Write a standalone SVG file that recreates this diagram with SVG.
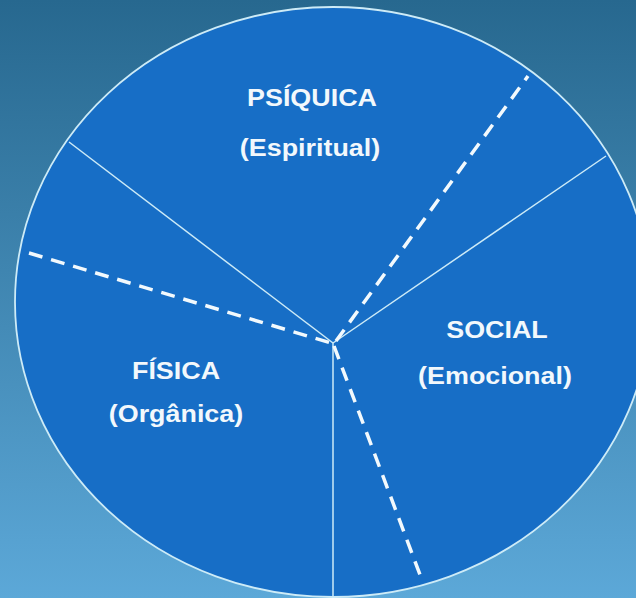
<svg xmlns="http://www.w3.org/2000/svg" width="636" height="598" viewBox="0 0 636 598">
  <defs>
    <linearGradient id="bg" x1="0" y1="0" x2="0" y2="1">
      <stop offset="0" stop-color="#27688f"/>
      <stop offset="1" stop-color="#5ca8d8"/>
    </linearGradient>
    <style>
      .pie { fill: #176ec6; stroke: #cdebf7; stroke-width: 1.8; }
      .divider { stroke: #cdebf7; stroke-width: 1.5; fill: none; }
      .dash { stroke: #f2f9fd; stroke-width: 3.5; fill: none; stroke-dasharray: 14 9; }
      .label { font-family: "Liberation Sans", Arial, sans-serif; font-weight: bold; font-size: 24px; fill: #f2f8fc; text-anchor: middle; }
    </style>
  </defs>

  <rect x="0" y="0" width="636" height="598" fill="url(#bg)"/>

  <!-- main disc -->
  <ellipse class="pie" cx="333" cy="302" rx="318" ry="295"/>

  <g id="connectors">
    <!-- solid sector boundaries -->
    <line class="divider" x1="333" y1="343" x2="69" y2="142"/>
    <line class="divider" x1="333" y1="343" x2="606" y2="156"/>
    <line class="divider" x1="333" y1="343" x2="333" y2="597"/>
    <!-- dashed sub-boundaries -->
    <line class="dash" x1="29" y1="253" x2="331" y2="343"/>
    <line class="dash" x1="336" y1="341" x2="528" y2="76"/>
    <line class="dash" x1="334" y1="346" x2="422" y2="580"/>
  </g>

  <g id="psiquica">
    <text class="label" transform="translate(312 106) scale(1.12 1)">PSÍQUICA</text>
    <text class="label" transform="translate(310 156) scale(1.12 1)">(Espiritual)</text>
  </g>

  <g id="social">
    <text class="label" transform="translate(497 338) scale(1.12 1)">SOCIAL</text>
    <text class="label" transform="translate(495 384) scale(1.12 1)">(Emocional)</text>
  </g>

  <g id="fisica">
    <text class="label" transform="translate(176 379) scale(1.12 1)">FÍSICA</text>
    <text class="label" transform="translate(176 422) scale(1.12 1)">(Orgânica)</text>
  </g>
</svg>
